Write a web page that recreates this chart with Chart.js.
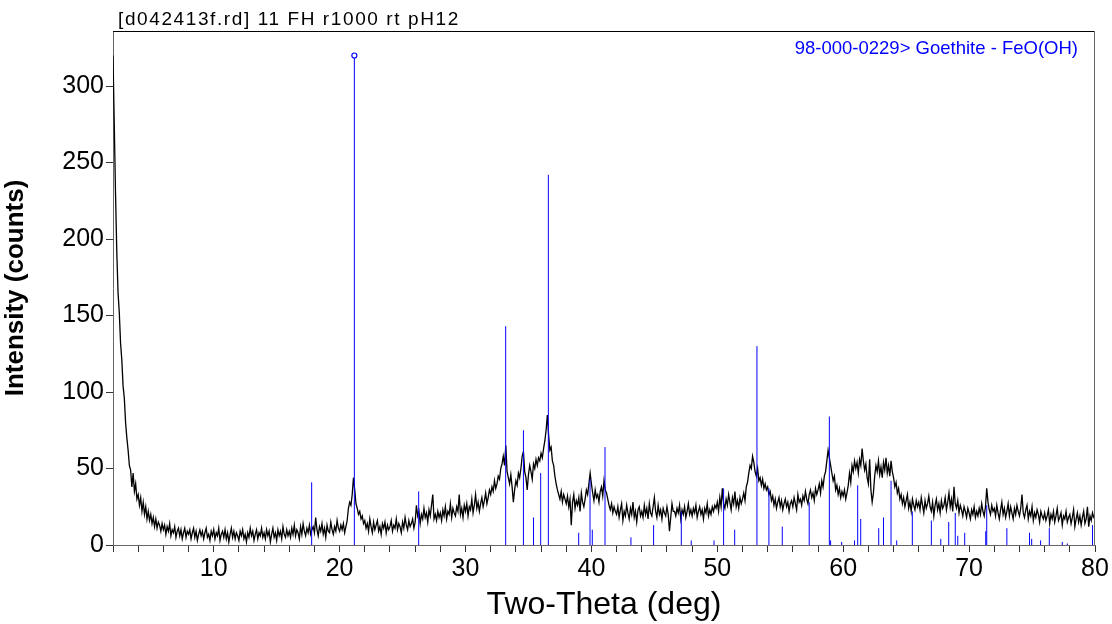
<!DOCTYPE html>
<html>
<head>
<meta charset="utf-8">
<script src="https://cdn.jsdelivr.net/npm/chart.js@4.4.0/dist/chart.umd.min.js"></script>
<style>
html,body{margin:0;padding:0;background:#fff;}
#wrap{width:1112px;height:624px;}
</style>
</head>
<body>
<div id="wrap"><canvas id="xrd" width="1112" height="624"></canvas></div>
<script>
const scanTitle = '[d042413f.rd] 11 FH r1000 rt pH12';
const phaseLabel = '98-000-0229> Goethite - FeO(OH)';

// measured scan, one value every 0.1 deg starting at 2.0 deg (20 values per row = 2 deg)
const scanStart = 2.0;
const scanStep = 0.1;
const counts = [
  320, 275, 230, 192, 165, 152, 132, 121, 104, 96, 80, 70, 62, 52, 49, 38, 47, 35, 40, 30,     // 2
  33, 26, 31, 22, 28, 20, 25, 17, 22, 16, 20, 14, 18, 12, 17, 11, 15, 13, 9, 14,               // 4
  10, 13, 7, 12, 9, 14, 6, 10, 8, 12, 5, 9, 11, 6, 10, 4, 8, 11, 5, 9,                         // 6
  7, 10, 4, 8, 11, 5, 9, 3, 7, 10, 6, 9, 4, 8, 11, 5, 7, 3, 9, 6,                              // 8
  10, 4, 8, 6, 11, 3, 7, 9, 5, 10, 4, 8, 2, 7, 11, 5, 9, 4, 8, 6,                              // 10
  3, 9, 6, 10, 4, 7, 2, 8, 5, 11, 6, 9, 3, 7, 10, 4, 8, 6, 11, 5,                              // 12
  8, 4, 10, 6, 9, 2, 7, 11, 5, 8, 3, 10, 6, 9, 4, 12, 7, 5, 10, 6,                             // 14
  9, 5, 11, 7, 13, 6, 10, 8, 4, 12, 7, 14, 9, 6, 11, 8, 13, 7, 10, 12,                         // 16
  8, 18, 10, 6, 12, 9, 14, 7, 11, 5, 13, 9, 8, 15, 10, 7, 12, 9, 16, 11,                       // 18
  9, 13, 10, 14, 8, 12, 16, 24, 28, 26, 33, 44, 36, 27, 24, 20, 22, 17, 19, 14,                // 20
  16, 11, 14, 9, 17, 12, 8, 15, 10, 13, 16, 9, 12, 7, 14, 11, 15, 8, 13, 10,                   // 22
  12, 16, 9, 13, 11, 17, 10, 14, 12, 8, 15, 11, 18, 13, 10, 16, 12, 14, 17, 11,                // 24
  15, 26, 19, 22, 14, 20, 17, 24, 18, 21, 15, 23, 19, 26, 33, 17, 20, 16, 22, 18,              // 26
  21, 16, 23, 19, 25, 17, 22, 20, 27, 18, 24, 21, 19, 25, 22, 33, 20, 24, 18, 26,              // 28
  22, 27, 19, 25, 23, 30, 21, 26, 33, 24, 28, 22, 27, 31, 25, 29, 34, 27, 31, 36,              // 30
  33, 38, 35, 42, 37, 40, 45, 43, 50, 53, 58, 52, 65, 48, 44, 40, 46, 38, 28, 36,              // 32
  42, 39, 47, 44, 50, 58, 61, 48, 44, 36, 46, 52, 48, 43, 53, 50, 56, 52, 57, 55,              // 34
  60, 57, 63, 68, 75, 85, 72, 62, 64, 55, 52, 45, 40, 36, 33, 30, 35, 28, 33, 30,              // 36
  27, 32, 25, 30, 13, 28, 33, 24, 29, 26, 31, 22, 34, 28, 25, 30, 36, 33, 40, 47,              // 38
  40, 34, 29, 36, 31, 33, 28, 35, 38, 32, 42, 36, 34, 30, 26, 23, 27, 21, 25, 22,              // 40
  20, 25, 18, 23, 27, 16, 22, 19, 26, 21, 17, 24, 20, 28, 18, 22, 15, 23, 25, 19,              // 42
  22, 18, 26, 20, 24, 17, 27, 21, 19, 25, 31, 22, 18, 26, 20, 23, 17, 24, 21, 19,              // 44
  25, 20, 9, 18, 27, 22, 22, 19, 24, 21, 26, 17, 23, 20, 25, 18, 22, 27, 20, 23,               // 46
  19, 24, 21, 26, 18, 22, 25, 20, 23, 17, 24, 21, 27, 19, 23, 20, 25, 22, 26, 24,              // 48
  28, 22, 31, 25, 37, 27, 24, 30, 26, 33, 28, 23, 31, 27, 35, 25, 29, 24, 31, 27,              // 50
  30, 34, 29, 38, 41, 47, 52, 50, 58, 54, 48, 45, 50, 42, 44, 39, 43, 37, 40, 36,              // 52
  38, 33, 35, 29, 32, 26, 30, 24, 28, 31, 25, 29, 23, 27, 30, 25, 28, 22, 27, 29,              // 54
  25, 31, 27, 23, 33, 28, 30, 26, 32, 29, 35, 30, 27, 33, 36, 31, 34, 29, 37, 33,              // 56
  36, 40, 34, 42, 38, 45, 48, 55, 62, 57, 52, 47, 42, 45, 36, 39, 33, 37, 31, 35,              // 58
  32, 36, 30, 34, 39, 47, 41, 52, 48, 55, 50, 54, 47, 56, 52, 63, 55, 49, 53, 44,              // 60
  40, 56, 36, 28, 34, 45, 52, 48, 55, 46, 51, 44, 54, 49, 57, 47, 52, 45, 55, 48,              // 62
  44, 38, 41, 34, 37, 30, 33, 27, 31, 25, 29, 33, 24, 28, 22, 30, 26, 23, 29, 25,              // 64
  28, 23, 31, 26, 21, 29, 24, 27, 32, 25, 22, 28, 19, 26, 30, 23, 27, 21, 29, 24,              // 66
  26, 31, 23, 28, 34, 25, 30, 22, 38, 27, 24, 29, 21, 26, 23, 19, 25, 22, 18, 24,              // 68
  21, 17, 23, 20, 25, 18, 22, 19, 24, 20, 27, 22, 19, 25, 37, 28, 23, 20, 26, 22,              // 70
  24, 19, 26, 21, 17, 23, 28, 20, 24, 18, 22, 27, 19, 25, 21, 17, 24, 20, 26, 22,              // 72
  19, 24, 33, 21, 18, 23, 26, 17, 22, 19, 25, 16, 21, 18, 23, 20, 15, 22, 19, 17,              // 74
  21, 16, 19, 23, 14, 20, 17, 22, 15, 19, 24, 16, 18, 21, 13, 19, 17, 22, 15, 18,              // 76
  20, 14, 18, 23, 12, 17, 21, 15, 19, 13, 18, 22, 14, 17, 25, 12, 19, 16, 21, 18,              // 78
  17                                                                                          // 80
];

// reference pattern sticks (2theta, intensity)
const stickPos = [17.78, 21.17, 26.28, 33.19, 34.6, 35.4, 35.97, 36.58, 38.99, 39.89, 40.07, 41.08,
  43.14, 44.94, 47.14, 47.93, 49.74, 50.5, 51.38, 53.15, 54.1, 55.16, 57.3, 58.9, 59.0, 59.88,
  60.9, 61.15, 61.39, 62.82, 63.2, 63.8, 64.25, 65.49, 67.0, 67.75, 68.38, 68.9, 69.1, 69.65,
  71.32, 71.4, 73.0, 74.8, 74.97, 75.68, 76.37, 77.4, 77.8, 79.8];
const stickInt = [41, 320, 35, 143, 75, 18, 47, 242, 8, 43, 10, 64,
  5, 13, 22, 3, 3, 37, 10, 130, 37, 12, 28, 84, 3, 2,
  3, 39, 17, 11, 18, 42, 3, 22, 16, 4, 15, 21, 6, 8,
  9, 26, 11, 8, 4, 3, 11, 2, 1, 13];

const xMin = 2, xMax = 80, xStep = 2;
const yMin = 0, yMax = 336, yStep = 50;

const font = '"Liberation Sans", Arial, sans-serif';

const scanData = counts.map((c, i) => ({x: +(scanStart + i * scanStep).toFixed(2), y: c}));
const stickData = [];
stickPos.forEach((p, i) => {
  stickData.push({x: p, y: 0}, {x: p, y: stickInt[i]}, {x: p, y: null});
});
const topIdx = stickInt.indexOf(Math.max(...stickInt));
const markerData = [{x: stickPos[topIdx], y: stickInt[topIdx]}];

const framePlugin = {
  id: 'frame',
  afterDatasetsDraw(chart) {
    const {ctx, chartArea: a} = chart;
    ctx.save();
    ctx.lineWidth = 1;
    ctx.strokeStyle = '#000';
    ctx.beginPath();
    ctx.moveTo(a.left, a.top + 0.5);
    ctx.lineTo(a.right, a.top + 0.5);
    ctx.stroke();
    ctx.strokeStyle = '#666';
    ctx.beginPath();
    ctx.moveTo(a.right - 0.5, a.top);
    ctx.lineTo(a.right - 0.5, a.bottom);
    ctx.stroke();

    // phase label, top right inside the plot
    ctx.fillStyle = '#0000ff';
    ctx.font = '18.5px ' + font;
    ctx.textAlign = 'right';
    ctx.textBaseline = 'middle';
    ctx.fillText(phaseLabel, a.right - 17, a.top + 18);

    // scan title above the plot, spaced out like the original
    ctx.fillStyle = '#000';
    ctx.font = '19px ' + font;
    ctx.textAlign = 'left';
    ctx.textBaseline = 'alphabetic';
    ctx.letterSpacing = '1.6px';
    ctx.fillText(scanTitle, a.left + 5, a.top - 6);
    ctx.restore();
  }
};

new Chart(document.getElementById('xrd'), {
  type: 'line',
  data: {
    datasets: [
      {
        label: 'marker',
        data: markerData,
        showLine: false,
        pointRadius: 2.5,
        pointBorderWidth: 1.2,
        pointBorderColor: '#0000ff',
        pointBackgroundColor: '#fff',
        order: 0
      },
      {
        label: 'Goethite',
        data: stickData,
        borderColor: '#0000ff',
        borderWidth: 1,
        pointRadius: 0,
        spanGaps: false,
        tension: 0,
        order: 1
      },
      {
        label: 'scan',
        data: scanData,
        borderColor: '#000',
        borderWidth: 1.3,
        pointRadius: 0,
        tension: 0,
        order: 2
      }
    ]
  },
  options: {
    responsive: false,
    animation: false,
    devicePixelRatio: 1,
    layout: {padding: {top: 31, right: 17, bottom: 0, left: 0}},
    plugins: {
      legend: {display: false},
      tooltip: {enabled: false},
      title: {display: false}
    },
    scales: {
      x: {
        type: 'linear',
        min: xMin,
        max: xMax,
        afterFit(s) { s.height = 79; },
        ticks: {
          stepSize: xStep,
          autoSkip: false,
          maxRotation: 0,
          color: '#000',
          padding: 2,
          font: {family: font, size: 25},
          callback: v => (v % 10 === 0 ? v : '')
        },
        grid: {drawOnChartArea: false, tickLength: 7, color: '#333'},
        border: {color: '#666'},
        title: {
          display: true,
          text: 'Two-Theta (deg)',
          color: '#000',
          font: {family: font, size: 32},
          padding: {top: 2, bottom: 0}
        }
      },
      y: {
        min: yMin,
        max: yMax,
        afterFit(s) { s.width = 113; },
        ticks: {
          stepSize: yStep,
          color: '#000',
          padding: 2,
          font: {family: font, size: 25},
          callback: v => (v % yStep === 0 ? v : '')
        },
        grid: {
          drawOnChartArea: false,
          tickLength: 7,
          color: ctx => (ctx.tick && ctx.tick.value % yStep === 0 ? '#333' : 'rgba(0,0,0,0)')
        },
        border: {color: '#666'},
        title: {
          display: true,
          text: 'Intensity (counts)',
          color: '#000',
          font: {family: font, size: 26, weight: 'bold'},
          padding: {top: 0, bottom: 4}
        }
      }
    }
  },
  plugins: [framePlugin]
});
</script>
</body>
</html>
